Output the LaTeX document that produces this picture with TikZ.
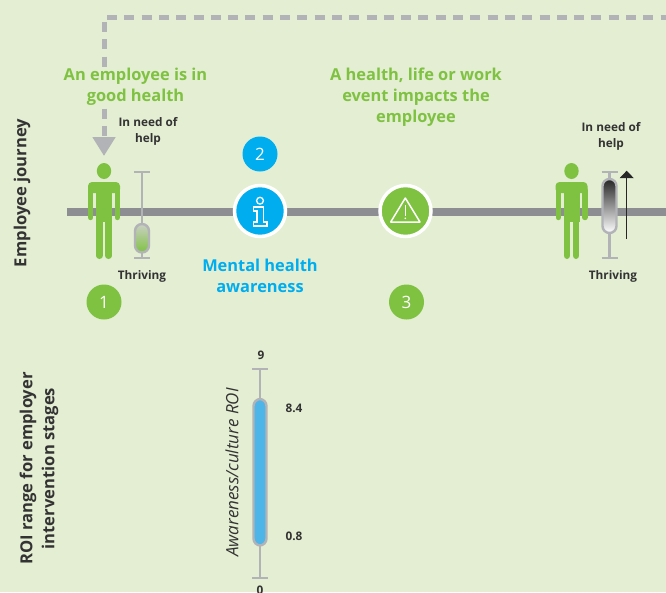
\documentclass[tikz,border=0pt]{standalone}
\usepackage{fontspec}
\setmainfont{Open Sans}
\usetikzlibrary{arrows.meta}
\definecolor{pagebg}{HTML}{E3EED3}
\definecolor{leafgreen}{HTML}{7FC241}
\definecolor{skyblue}{HTML}{00ADEF}
\definecolor{barblue}{HTML}{4DB5E8}
\definecolor{trackgrey}{HTML}{8C8E91}
\definecolor{paleGrey}{HTML}{B1B3B6}
\definecolor{inkgrey}{HTML}{333333}
\tikzset{
  headline/.style={align=center,font=\fontsize{16.4}{21}\selectfont\bfseries},
  scalelabel/.style={align=center,text=inkgrey,font=\fontsize{11.8}{16}\selectfont\bfseries},
  sidelabel/.style={align=center,rotate=90,text=inkgrey,font=\fontsize{16.6}{22}\selectfont\bfseries},
  numdot/.style={circle,minimum size=35pt,inner sep=0pt,text=white,font=\fontsize{17}{20}\selectfont},
  bigdot/.style={circle,draw=white,line width=3.5pt,minimum size=51pt,inner sep=0pt},
  tbar/.style={paleGrey,line width=2.2pt},
  capsule/.style={draw=paleGrey,line width=2.4pt,rounded corners=7pt},
  dashline/.style={paleGrey,line width=5pt,dash pattern=on 10pt off 7.3pt}
}
\begin{document}
\begin{tikzpicture}[x=1pt,y=-1pt]

\fill [pagebg] (0,0) rectangle (666,592);
\useasboundingbox (0,0) rectangle (666,592);

% dashed return path
\coordinate (dashEnd) at (666,17);
\coordinate (dashCorner) at (107,17);
\coordinate (dashTop) at (104,22);
\coordinate (dashTip) at (104,156);
\draw [dashline] (dashCorner) -- (dashEnd);
\draw [dashline,-{Triangle[length=19pt,width=22pt]}] (dashTop) -- (dashTip);

\node [headline,text=leafgreen,fill=pagebg,inner sep=1pt] (goodHealth) at (135.5,86.5) {An employee is in\\good health};
\node [headline,text=leafgreen] (lifeEvent) at (416,97) {A health, life or work\\event impacts the\\employee};

% journey line
\coordinate (lineStart) at (67,212);
\coordinate (lineEnd) at (666,212);
\draw [trackgrey,line width=8pt] (lineStart) -- (lineEnd);

% the two figures
\foreach \dx in {0,467.5} {
  \begin{scope}[xshift=\dx pt]
  \fill [leafgreen] (104,171) ellipse [x radius=7.2, y radius=8];
  \fill [leafgreen,rounded corners=4pt] (88,193) -- (88,182) -- (120,182) -- (120,193) -- cycle;
  \fill [leafgreen] (96,188) rectangle (112,222);
  \draw [leafgreen,line width=5.4pt,line cap=round] (90.7,190) -- (90.7,217.5);
  \draw [leafgreen,line width=5.4pt,line cap=round] (117.3,190) -- (117.3,217.5);
  \draw [leafgreen,line width=6.6pt,line cap=round] (99.4,220) -- (99.4,255.7);
  \draw [leafgreen,line width=6.6pt,line cap=round] (108.6,220) -- (108.6,255.7);
  \end{scope}
}

% scale beside first figure
\draw [tbar] (142,172) -- (142,258);
\draw [tbar] (134,172) -- (150,172);
\draw [tbar] (134,258) -- (150,258);
\draw [capsule,top color=paleGrey!50!pagebg,bottom color=leafgreen] (135,224) rectangle (149,252.5);
\node [scalelabel] (needFirst) at (148,131.5) {In need of\\help};
\node [scalelabel] (thriveFirst) at (142,276.5) {Thriving};

% scale beside second figure
\draw [tbar] (609.5,172) -- (609.5,258);
\draw [tbar] (601.5,172) -- (617.5,172);
\draw [tbar] (601.5,258) -- (617.5,258);
\draw [capsule,top color=black!85,bottom color=white] (602.5,179) rectangle (616.5,233);
\coordinate (riseFoot) at (626.7,239);
\coordinate (riseTip) at (626.7,170.7);
\draw [black!85,line width=1.2pt,-{Triangle[length=7.5pt,width=14pt]}] (riseFoot) -- (riseTip);
\node [scalelabel] (needSecond) at (611,136.5) {In need of\\help};
\node [scalelabel] (thriveSecond) at (613,276.5) {Thriving};

% stage markers
\node [bigdot,fill=skyblue] (infoDot) at (260,211) {};
\node [bigdot,fill=leafgreen] (alertDot) at (405.5,211) {};
\draw [white,line width=1.3pt] (260,200.7) circle [radius=3.4];
\draw [white,line width=1.3pt] (253.5,207) -- (263.5,207) -- (263.5,222) -- (267,222) -- (267,226) -- (253.5,226) -- (253.5,222) -- (257,222) -- (257,211) -- (253.5,211) -- cycle;
\draw [white,line width=1.5pt,line join=round] (405.3,198) -- (420,222) -- (390.7,222) -- cycle;
\draw [white,line width=1.2pt] (405.3,205) -- (405.3,215.5);
\fill [white] (405.3,218.3) circle [radius=0.9];

\node [numdot,fill=leafgreen] (stepOne) at (104,302) {1};
\node [numdot,fill=skyblue] (stepTwo) at (260,154) {2};
\node [numdot,fill=leafgreen] (stepThree) at (406.5,302) {3};
\node [headline,text=skyblue] (awareness) at (260,276) {Mental health\\awareness};

% side titles
\node [sidelabel] (journeyTitle) at (22,193) {Employee journey};
\node [sidelabel] (roiTitle) at (39,468.5) {ROI range for employer\\intervention stages};

% roi bar
\draw [tbar] (260,369) -- (260,578);
\draw [tbar] (252,369) -- (268,369);
\draw [tbar] (252,578) -- (268,578);
\draw [capsule,fill=barblue] (253.5,399) rectangle (266.5,545.5);
\node [rotate=90,text=inkgrey,font=\fontsize{17}{20}\selectfont\itshape] (roiName) at (232,472.5) {Awareness/culture ROI};
\node [scalelabel] (valTop) at (261,355) {9};
\node [scalelabel] (valHigh) at (294,408) {8.4};
\node [scalelabel] (valLow) at (294,536) {0.8};
\node [scalelabel] (valZero) at (260,590) {0};

\end{tikzpicture}
\end{document}
